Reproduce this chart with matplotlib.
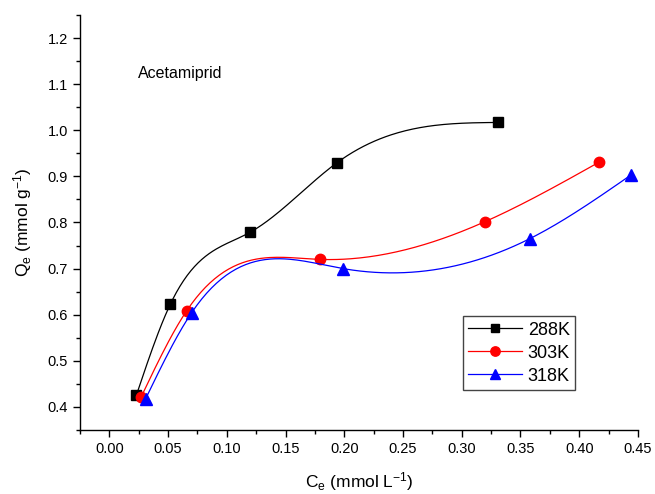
import numpy as np
import matplotlib
matplotlib.use("Agg")
import matplotlib.pyplot as plt
from matplotlib.ticker import MultipleLocator

plt.rcParams['font.family'] = ['Liberation Sans', 'DejaVu Sans']
plt.rcParams['mathtext.fontset'] = 'custom'
plt.rcParams['mathtext.rm'] = 'Liberation Sans'
plt.rcParams['mathtext.it'] = 'Liberation Sans'

labels = ["288K", "303K", "318K"]
ce_288 = [0.023, 0.052, 0.120, 0.194, 0.331]
qe_288 = [0.425, 0.623, 0.779, 0.930, 1.017]
ce_303 = [0.027, 0.066, 0.179, 0.320, 0.417]
qe_303 = [0.421, 0.609, 0.720, 0.802, 0.931]
ce_318 = [0.031, 0.070, 0.199, 0.358, 0.444]
qe_318 = [0.418, 0.604, 0.700, 0.765, 0.903]
colors = ["black", "red", "blue"]
markers = ["s", "o", "^"]


def natural_spline(x, y, n=200):
    x = np.asarray(x, float); y = np.asarray(y, float)
    k = len(x); h = np.diff(x)
    A = np.zeros((k, k)); b = np.zeros(k)
    A[0, 0] = A[-1, -1] = 1
    for i in range(1, k - 1):
        A[i, i - 1] = h[i - 1]; A[i, i] = 2 * (h[i - 1] + h[i]); A[i, i + 1] = h[i]
        b[i] = 3 * ((y[i + 1] - y[i]) / h[i] - (y[i] - y[i - 1]) / h[i - 1])
    c = np.linalg.solve(A, b)
    xs = np.linspace(x[0], x[-1], n); ys = np.empty_like(xs)
    for j, xv in enumerate(xs):
        i = min(np.searchsorted(x, xv, side='right') - 1, k - 2)
        d = xv - x[i]
        bi = (y[i + 1] - y[i]) / h[i] - h[i] * (2 * c[i] + c[i + 1]) / 3
        di = (c[i + 1] - c[i]) / (3 * h[i])
        ys[j] = y[i] + bi * d + c[i] * d ** 2 + di * d ** 3
    return xs, ys


fig = plt.figure(figsize=(6.55, 4.94), dpi=100)
ax = fig.add_axes([0.122, 0.1296, 0.852, 0.84])

series = [(ce_288, qe_288), (ce_303, qe_303), (ce_318, qe_318)]
msz = [6.5, 7.5, 8]
for (xv, yv), c, m, lab, ms in zip(series, colors, markers, labels, msz):
    xs, ys = natural_spline(xv, yv)
    ax.plot(xs, ys, color=c, lw=0.9)
    ax.plot(xv, yv, linestyle='none', marker=m, color=c, ms=ms)
    ax.plot([], [], color=c, lw=0.9, marker=m, ms=ms * 0.9, label=lab)

ax.set_xlim(-0.025, 0.45)
ax.set_ylim(0.35, 1.25)
ax.xaxis.set_minor_locator(MultipleLocator(0.025))
ax.yaxis.set_minor_locator(MultipleLocator(0.05))
ax.set_xticks(np.arange(0, 0.451, 0.05))
ax.set_xticklabels([f"{v:.2f}" for v in np.arange(0, 0.451, 0.05)])
ax.set_yticks(np.arange(0.4, 1.21, 0.1))
ax.set_yticklabels([f"{v:.1f}" for v in np.arange(0.4, 1.21, 0.1)])

for s in ['top', 'right']:
    ax.spines[s].set_visible(False)
for s in ['left', 'bottom']:
    ax.spines[s].set_linewidth(1.0)
ax.tick_params(which='major', direction='out', length=5, width=1, labelsize=10.5)
ax.tick_params(which='minor', direction='out', length=3, width=1)

ax.set_xlabel("C$_e$ (mmol L$^{-1}$)", fontsize=12.5, labelpad=10)
ax.set_ylabel("Q$_e$ (mmol g$^{-1}$)", fontsize=12.5, labelpad=10)

ax.text(0.024, 1.124, "Acetamiprid", fontsize=11.5, va='center', ha='left')

leg = ax.legend(loc='upper left', bbox_to_anchor=(0.686, 0.274), fontsize=13,
                fancybox=False, edgecolor='#444444', framealpha=1,
                handlelength=3.0, handletextpad=0.3, borderpad=0.3, labelspacing=0.33,
                borderaxespad=0)
leg.get_frame().set_linewidth(1.0)

fig.savefig("out.png", dpi=100)
